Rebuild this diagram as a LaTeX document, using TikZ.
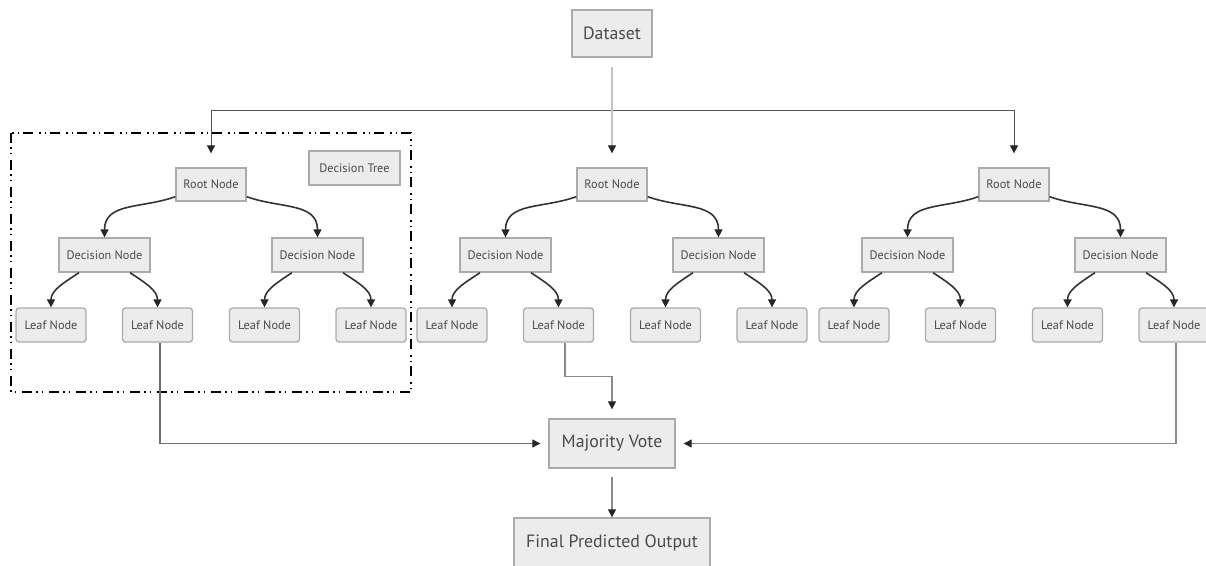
\documentclass[tikz,border=0pt]{standalone}
\usepackage{fontspec}
\setmainfont{PT Sans}
\usetikzlibrary{arrows.meta,calc}

\definecolor{boxfill}{HTML}{ECECEC}
\definecolor{boxline}{HTML}{ABABAB}
\definecolor{txt}{HTML}{4A4A4A}
\definecolor{edge}{HTML}{333333}
\definecolor{link}{HTML}{8A8A8A}
\definecolor{feed}{HTML}{C4C4C4}
\definecolor{tipc}{HTML}{262626}

\tikzset{
  x=1pt, y=1pt,
  box/.style={draw=boxline, fill=boxfill, line width=1.3pt, text=txt,
              inner sep=0pt, align=center},
  small/.style={box, font=\fontsize{12.3}{13}\selectfont},
  big/.style={box, font=\fontsize{17.8}{19}\selectfont},
  rootbox/.style={small, minimum width=70pt, minimum height=33pt},
  decbox/.style={small, minimum width=91pt, minimum height=34pt},
  leafbox/.style={small, rounded corners=3pt, minimum width=70pt, minimum height=34pt},
  tip/.style={-{Triangle[length=8pt,width=8pt,color=tipc]}},
  branch/.style={tip, draw=edge, line width=1.6pt},
  thin/.style={tip, line width=1.1pt},
  frame/.style={draw=black, line width=1.4pt,
    dash pattern=on 10pt off 4pt on 1.5pt off 4pt on 1.5pt off 6pt}
}

\begin{document}
\begin{tikzpicture}
\useasboundingbox (0,0) rectangle (1206,-565);

% input and output boxes
\node[big, minimum width=80pt, minimum height=47pt] (ds) at (612,-33.5) {Dataset};
\node[big, minimum width=126pt, minimum height=49pt] (mv) at (612,-443.5) {Majority Vote};
\node[big, minimum width=196pt, minimum height=49pt] (fo) at (612,-542.5) {Final Predicted Output};

% subgraph frame around the first tree
\draw[frame] (11,-133) rectangle (411,-392);
\node[decbox] (dtlabel) at (354.5,-168) {Decision Tree};

% three identical trees
\foreach \t/\dx in {a/0, b/401, c/803} {
  \node[rootbox] (\t r) at (211+\dx,-184.5) {Root Node};
  \node[decbox] (\t dl) at (104.5+\dx,-255) {Decision Node};
  \node[decbox] (\t dr) at (317.5+\dx,-255) {Decision Node};
  \node[leafbox] (\t l1) at (51+\dx,-325) {Leaf Node};
  \node[leafbox] (\t l2) at (157.5+\dx,-325) {Leaf Node};
  \node[leafbox] (\t l3) at (264.5+\dx,-325) {Leaf Node};
  \node[leafbox] (\t l4) at (371+\dx,-325) {Leaf Node};

  \draw[branch] ([yshift=5pt]\t r.south west) to[out=200,in=90,looseness=1.1] (\t dl.north);
  \draw[branch] ([yshift=5pt]\t r.south east) to[out=-20,in=90,looseness=1.1] (\t dr.north);
  \draw[branch] ([xshift=-25.5pt]\t dl.south) to[out=214,in=90] (\t l1.north);
  \draw[branch] ([xshift=25.5pt]\t dl.south) to[out=-34,in=90] (\t l2.north);
  \draw[branch] ([xshift=-25.5pt]\t dr.south) to[out=214,in=90] (\t l3.north);
  \draw[branch] ([xshift=25.5pt]\t dr.south) to[out=-34,in=90] (\t l4.north);
}

% dataset feeding the trees
\coordinate (split) at (612,-110);
\draw[thin, draw=edge!85, line width=1pt, shorten >=14pt] (split) -| (ar.north);
\draw[thin, draw=edge!85, line width=1pt, shorten >=14pt] (split) -| (cr.north);
\draw[thin, draw=feed, shorten <=9pt, shorten >=14pt] (ds.south) -- (br.north);

% tree outputs into the vote
\draw[thin, draw=link!80!black, shorten >=8pt] ([xshift=2.5pt]al2.south) |- (mv.west);
\draw[thin, draw=link, shorten >=9pt] ([xshift=6.5pt]bl2.south) -- ++(0,-34) -| (mv.north);
\draw[thin, draw=link, shorten >=8pt] ([xshift=2pt]cl4.south) |- (mv.east);

% vote to final result
\draw[thin, draw=link, shorten <=8pt] (mv.south) -- (fo.north);
\end{tikzpicture}
\end{document}
